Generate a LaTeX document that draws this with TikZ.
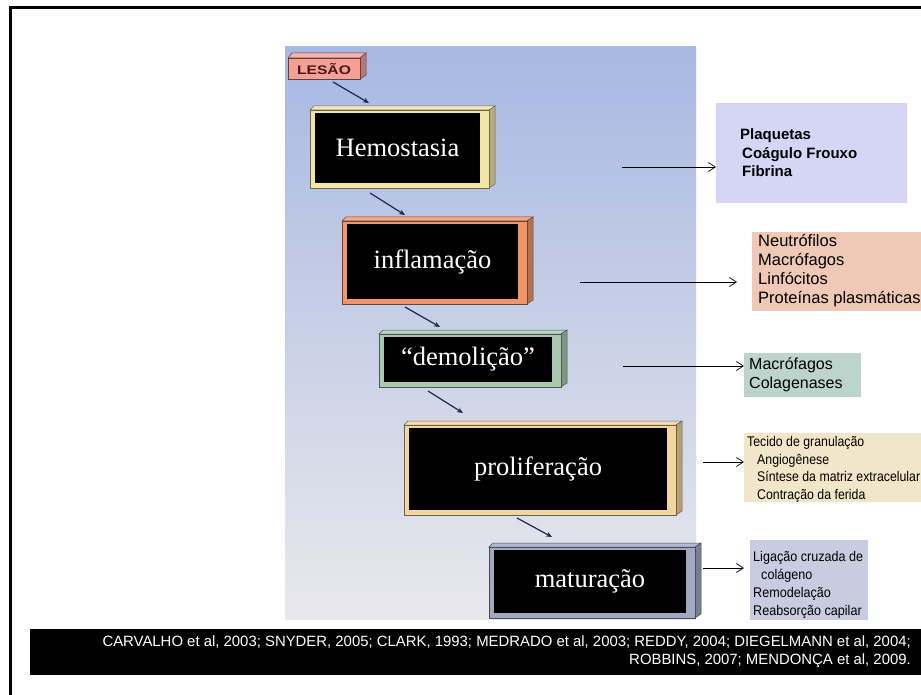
\documentclass[tikz,border=0pt]{standalone}
\usepackage{fontspec}
\setmainfont{Liberation Serif}
\setsansfont{Liberation Sans}
\newfontfamily\arial{Liberation Sans}
\newfontfamily\narrowA[FakeStretch=0.88]{Liberation Sans}
\newfontfamily\narrowB[FakeStretch=0.9]{Liberation Sans}
\newfontfamily\wideB[FakeStretch=1.25]{Liberation Sans}
\usetikzlibrary{arrows.meta,calc}
\definecolor{panelTop}{RGB}{168,184,226}
\definecolor{panelMid}{RGB}{200,208,234}
\definecolor{panelBot}{RGB}{233,233,236}
\definecolor{navyc}{RGB}{30,40,80}
\definecolor{hemoC}{RGB}{242,228,166}
\definecolor{inflC}{RGB}{240,150,105}
\definecolor{demoC}{RGB}{168,200,176}
\definecolor{prolC}{RGB}{242,214,158}
\definecolor{matuC}{RGB}{160,168,194}
\definecolor{lesaoC}{RGB}{244,160,150}
\definecolor{lesaoT}{RGB}{70,25,25}
\definecolor{lavC}{RGB}{213,213,245}
\definecolor{salC}{RGB}{240,200,182}
\definecolor{grnC}{RGB}{188,212,204}
\definecolor{tanC}{RGB}{242,230,200}
\definecolor{bgrC}{RGB}{200,204,224}
\tikzset{
  stage/.style={fill=black, text=white, inner sep=0pt, font=\fontsize{26.5}{29}\selectfont},
  navyarrow/.style={draw=navyc, line width=1.2pt, -{Stealth[length=6pt,width=5pt]}},
  pointer/.style={draw=black, line width=0.7pt, -{Straight Barb[length=7pt,width=9pt]}},
  infobox/.style={inner sep=0pt, outer sep=0pt},
  infotext/.style={inner sep=0pt, anchor=base west, align=left},
}
\newcommand\stagebox[7]{%
  \filldraw[fill=#6!80!white, draw=#6!45!black, line width=0.5pt] ({#2-5},{#3-3}) -- ({#2-1},{#3-7}) -- ({#4+15},{#3-7}) -- ({#4+9},{#3-3}) -- cycle;
  \filldraw[fill=#6!75!black, draw=#6!45!black, line width=0.5pt] ({#4+9},{#3-3}) -- ({#4+15},{#3-7}) -- ({#4+15},{#5+1}) -- ({#4+9},{#5+5}) -- cycle;
  \filldraw[fill=#6, draw=#6!45!black, line width=0.5pt] ({#2-5},{#3-3}) rectangle ({#4+9},{#5+5});
  \node[stage, minimum width={#4-#2}, minimum height={#5-#3}] (#1) at ({(#2+#4)/2},{(#3+#5)/2}) {#7};
}
\begin{document}
\begin{tikzpicture}[x=1pt,y=-1pt]
\useasboundingbox (0,0) rectangle (921,695);
\clip (0,0) rectangle (921,695);
\fill[white] (0,0) rectangle (921,695);
% frame
\draw[line width=3pt] (10.5,695) -- (10.5,7.3) -- (921,7.3);
% background panel
\shade[top color=panelTop, middle color=panelMid, bottom color=panelBot] (285,47) rectangle (696,619);

% LESAO box
\filldraw[fill=lesaoC!80!white, draw=lesaoC!40!black, line width=0.5pt] (288,58) -- (292,53) -- (366,53) -- (360,58) -- cycle;
\filldraw[fill=lesaoC!75!black, draw=lesaoC!40!black, line width=0.5pt] (360,58) -- (366,53) -- (366,75) -- (360,79) -- cycle;
\node[fill=lesaoC, draw=lesaoC!40!black, line width=0.5pt, minimum width=72pt, minimum height=21pt, inner sep=0pt, text=lesaoT, font=\wideB\bfseries\fontsize{12.5}{14}\selectfont] (lesao) at (324,68.5) {LESÃO};

% stage boxes
\stagebox{hemo}{315}{113}{480}{183}{hemoC}{Hemostasia}
\stagebox{infl}{347}{224}{518}{299}{inflC}{inflamação}
\stagebox{demo}{384}{337}{552}{382}{demoC}{“demolição”}
\stagebox{prol}{409}{428}{667}{510}{prolC}{proliferação}
\stagebox{matu}{494}{550}{686}{613}{matuC}{maturação}

% navy arrows between stages
\coordinate (a1s) at (333,82);  \coordinate (a1e) at (369,103);
\coordinate (a2s) at (370,193); \coordinate (a2e) at (405,215);
\coordinate (a3s) at (405,307); \coordinate (a3e) at (440,327);
\coordinate (a4s) at (428,391); \coordinate (a4e) at (463,413);
\coordinate (a5s) at (517,518); \coordinate (a5e) at (552,537);
\draw[navyarrow] (a1s) -- (a1e);
\draw[navyarrow] (a2s) -- (a2e);
\draw[navyarrow] (a3s) -- (a3e);
\draw[navyarrow] (a4s) -- (a4e);
\draw[navyarrow] (a5s) -- (a5e);

% info boxes
\node[infobox, fill=lavC, minimum width=191pt, minimum height=100pt, anchor=north west] (plaq) at (716,103) {};
\node[infotext, font=\arial\bfseries\fontsize{15}{18.5}\selectfont] (plaqt) at (740,177) {Plaquetas\\\hspace{2pt}Coágulo Frouxo\\\hspace{2pt}Fibrina};

\node[infobox, fill=salC, minimum width=180pt, minimum height=79pt, anchor=north west] (neut) at (752,232) {};
\node[infotext, font=\arial\fontsize{16.5}{18.7}\selectfont] (neutt) at (758,303) {Neutrófilos\\Macrófagos\\Linfócitos\\Proteínas plasmáticas};

\node[infobox, fill=grnC, minimum width=117pt, minimum height=44pt, anchor=north west] (macr) at (744,353) {};
\node[infotext, font=\arial\fontsize{16}{19}\selectfont] (macrt) at (749,388) {Macrófagos\\Colagenases};

\node[infobox, fill=tanC, minimum width=190pt, minimum height=69pt, anchor=north west] (teci) at (744,433) {};
\node[infotext, font=\narrowA\fontsize{14}{17.5}\selectfont] (tecit) at (747,499) {Tecido de granulação\\\hspace{10pt}Angiogênese\\\hspace{10pt}Síntese da matriz extracelular\\\hspace{10pt}Contração da ferida};

\node[infobox, fill=bgrC, minimum width=118pt, minimum height=80pt, anchor=north west] (liga) at (750,540) {};
\node[infotext, font=\narrowB\fontsize{14}{17.7}\selectfont] (ligat) at (753,615) {Ligação cruzada de\\\hspace{8pt}colágeno\\Remodelação\\Reabsorção capilar};

% pointers
\coordinate (p1) at (622,167);
\coordinate (p2) at (580,282);
\coordinate (p3) at (623,366);
\coordinate (p4) at (703,462);
\coordinate (p5) at (703,568);
\draw[pointer] (p1) -- (plaq.west |- p1);
\draw[pointer] (p2) -- ([xshift=-15pt]neut.west |- p2);
\draw[pointer] (p3) -- (macr.west |- p3);
\draw[pointer] (p4) -- (teci.west |- p4);
\draw[pointer] (p5) -- ([xshift=-6pt]liga.west |- p5);

% citation bar
\node[fill=black, minimum width=900pt, minimum height=46pt, inner sep=0pt, anchor=north west] (bar) at (30,629) {};
\node[anchor=base east, align=right, text=white, inner sep=0pt, font=\arial\fontsize{14.9}{18}\selectfont] (cite) at (911,664) {CARVALHO et al, 2003; SNYDER, 2005; CLARK, 1993; MEDRADO et al, 2003; REDDY, 2004; DIEGELMANN et al, 2004;\\ROBBINS, 2007; MENDONÇA et al, 2009.};
\end{tikzpicture}
\end{document}
